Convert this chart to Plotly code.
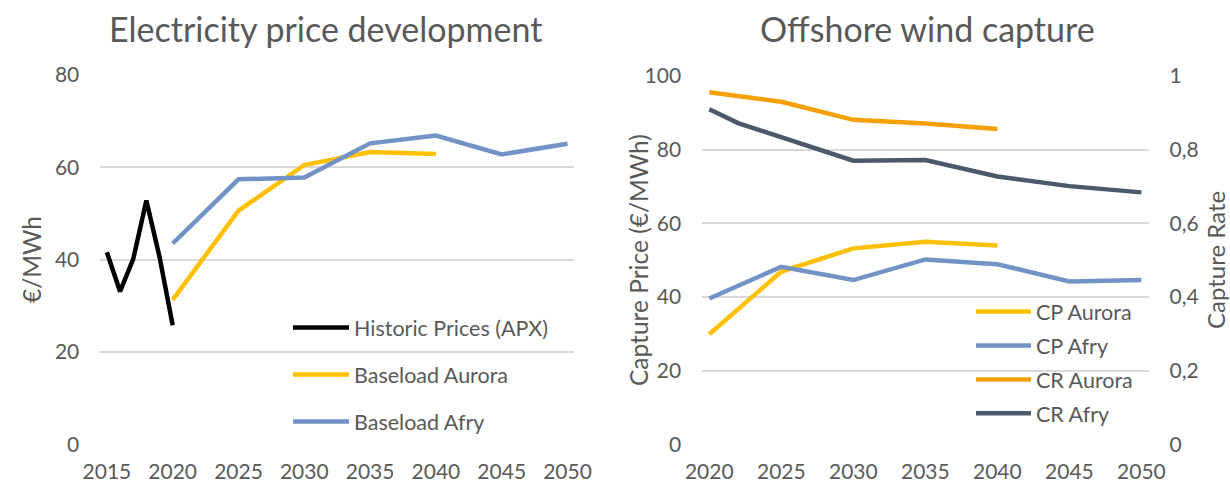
import plotly.graph_objects as go

# Left chart data (€/MWh)
hist_years = [2015, 2016, 2017, 2018, 2019, 2020]
hist_price = [41.6, 33.1, 40.1, 52.8, 40.6, 25.8]

fc_years = [2020, 2025, 2030, 2035, 2040, 2045, 2050]
base_aurora = [31.3, 50.6, 60.5, 63.3, 62.9]
base_afry = [43.5, 57.4, 57.8, 65.2, 66.9, 62.8, 65.1]

# Right chart data: capture price (€/MWh) and capture rate
cp_aurora = [29.9, 46.9, 53.2, 55.0, 54.0]
cp_afry = [39.6, 48.2, 44.6, 50.2, 48.9, 44.2, 44.6]
cr_aurora = [0.956, 0.930, 0.881, 0.871, 0.856]
cr_afry_years = [2020, 2022, 2030, 2035, 2040, 2045, 2050]
cr_afry = [0.910, 0.872, 0.770, 0.772, 0.727, 0.701, 0.684]

left_ticks = [0, 20, 40, 60, 80]
right_ticks = [0, 20, 40, 60, 80, 100]
rate_ticks = [0, 0.2, 0.4, 0.6, 0.8, 1]
rate_labels = ["0", "0,2", "0,4", "0,6", "0,8", "1"]

W, H = 1230, 482
FONT = "Lato"
GREY = "#595959"
GRID = "#D9D9D9"
YELLOW = "#FFC000"
BLUE = "#7193C5"
ORANGE = "#F5A000"
DARK = "#4A5A6B"


def px_x(v):
    return v / W


def px_y(v):
    return 1 - v / H


fig = go.Figure()

# left chart
fig.add_trace(go.Scatter(x=hist_years, y=hist_price, name="Historic Prices (APX)",
                         mode="lines", line=dict(color="black", width=4.5),
                         xaxis="x", yaxis="y", legend="legend", legendgroup="a"))
fig.add_trace(go.Scatter(x=fc_years[:len(base_aurora)], y=base_aurora, name="Baseload Aurora",
                         mode="lines", line=dict(color=YELLOW, width=4.5),
                         xaxis="x", yaxis="y", legend="legend", legendgroup="b"))
fig.add_trace(go.Scatter(x=fc_years, y=base_afry, name="Baseload Afry",
                         mode="lines", line=dict(color=BLUE, width=4.5),
                         xaxis="x", yaxis="y", legend="legend", legendgroup="c"))

# right chart
fig.add_trace(go.Scatter(x=fc_years[:len(cp_aurora)], y=cp_aurora, name="CP Aurora",
                         mode="lines", line=dict(color=YELLOW, width=4.5),
                         xaxis="x2", yaxis="y2", legend="legend2", legendgroup="d"))
fig.add_trace(go.Scatter(x=fc_years, y=cp_afry, name="CP Afry",
                         mode="lines", line=dict(color=BLUE, width=4.5),
                         xaxis="x2", yaxis="y2", legend="legend2", legendgroup="e"))
fig.add_trace(go.Scatter(x=fc_years[:len(cr_aurora)], y=cr_aurora, name="CR Aurora",
                         mode="lines", line=dict(color=ORANGE, width=4.5),
                         xaxis="x2", yaxis="y3", legend="legend2", legendgroup="f"))
fig.add_trace(go.Scatter(x=cr_afry_years, y=cr_afry, name="CR Afry",
                         mode="lines", line=dict(color=DARK, width=4.5),
                         xaxis="x2", yaxis="y3", legend="legend2", legendgroup="g"))

tick_font = dict(family=FONT, size=21, color=GREY)
xaxis_common = dict(showgrid=False, zeroline=False, showline=False, ticks="",
                    automargin=False, tickfont=tick_font, ticklabelstandoff=13)
yaxis_common = dict(showgrid=True, gridcolor=GRID, gridwidth=1.5, zeroline=False,
                    automargin=False, showline=False, ticks="", tickfont=tick_font,
                    ticklabelstandoff=20)

fig.update_layout(
    template="none",
    width=W, height=H,
    margin=dict(l=0, r=0, t=0, b=0, pad=0),
    paper_bgcolor="white", plot_bgcolor="white",
    font=dict(family=FONT, color=GREY),
    xaxis=dict(domain=[px_x(100.3), px_x(574.1)], range=[2014.5, 2050.5],
               tickvals=list(range(2015, 2051, 5)), anchor="y", **xaxis_common),
    yaxis=dict(domain=[px_y(444.3), px_y(75)], range=[0, 80], tickvals=left_ticks,
               anchor="x", **yaxis_common),
    xaxis2=dict(domain=[px_x(702.1), px_x(1148.6)], range=[2019.5, 2050.5],
                tickvals=list(range(2020, 2051, 5)), anchor="y2", **xaxis_common),
    yaxis2=dict(domain=[px_y(444.3), px_y(76)], range=[0, 100], tickvals=right_ticks,
                anchor="x2", **yaxis_common),
    yaxis3=dict(range=[0, 1], tickvals=rate_ticks, ticktext=rate_labels,
                overlaying="y2", side="right", anchor="x2", automargin=False,
                showgrid=False, zeroline=False, showline=False, ticks="",
                tickfont=tick_font, ticklabelstandoff=20),
    legend=dict(x=px_x(288), y=px_y(307), xanchor="left", yanchor="top",
                font=dict(family=FONT, size=21.5, color=GREY), bgcolor="rgba(0,0,0,0)",
                itemwidth=56, tracegroupgap=16),
    legend2=dict(x=px_x(971), y=px_y(291), xanchor="left", yanchor="top",
                 font=dict(family=FONT, size=21.5, color=GREY), bgcolor="rgba(0,0,0,0)",
                 itemwidth=55, tracegroupgap=3),
    showlegend=True,
)

annotations = [
    dict(text="Electricity price development", x=px_x(326), y=px_y(28), size=34),
    dict(text="Offshore wind capture", x=px_x(927), y=px_y(28), size=34),
    dict(text="€/MWh", x=px_x(31), y=px_y(260), size=24.5, angle=-90),
    dict(text="Capture Price (€/MWh)", x=px_x(638), y=px_y(260), size=24.5, angle=-90),
    dict(text="Capture Rate", x=px_x(1215), y=px_y(260), size=24, angle=-90),
]
for a in annotations:
    fig.add_annotation(text=a["text"], x=a["x"], y=a["y"], xref="paper", yref="paper",
                       xanchor="center", yanchor="middle", showarrow=False,
                       textangle=a.get("angle", 0),
                       font=dict(family=FONT, size=a["size"], color=GREY))

# the page body has a default 8px margin; drop it so the figure sits at 0,0
fig.write_html("out.html", config={"displayModeBar": False},
               post_script="document.body.style.margin = '0';")
